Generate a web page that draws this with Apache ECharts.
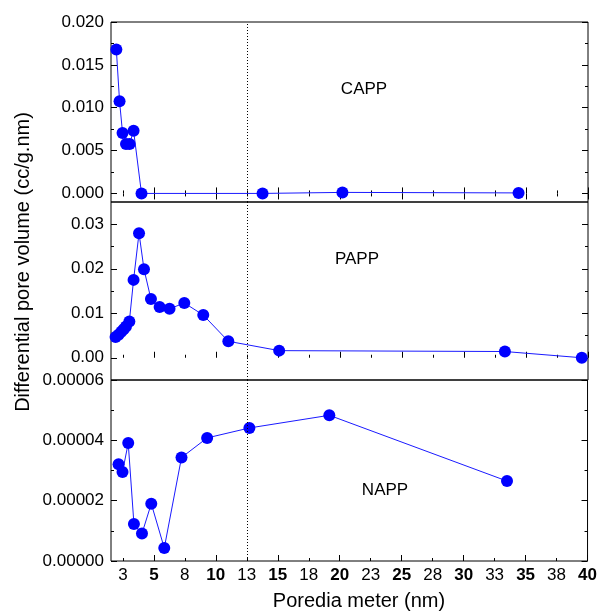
<!DOCTYPE html>
<html>
<head>
<meta charset="utf-8">
<script src="https://cdn.jsdelivr.net/npm/echarts@6/dist/echarts.min.js"></script>
<style>html,body{margin:0;padding:0;background:#fff;}#c{width:600px;height:613px;}</style>
</head>
<body>
<div id="c"></div>
<script>
// ---- data ----
const capX = [1.97, 2.23, 2.47, 2.75, 3.04, 3.36, 4.0, 13.76, 20.2, 34.4];
const capY = [0.0168, 0.01075, 0.00706, 0.00577, 0.00577, 0.00732, 0.0, 0.0, 0.00012, 0.00006];

const papX = [1.91, 2.15, 2.37, 2.56, 2.75, 3.02, 3.36, 3.80, 4.20, 4.76, 5.46, 6.26, 7.45, 8.98, 11.0, 15.1, 33.3, 39.5];
const papY = [0.00464, 0.00516, 0.00583, 0.00643, 0.00702, 0.00814, 0.0175, 0.0280, 0.0199, 0.0132, 0.0114, 0.0110, 0.0123, 0.0096, 0.0037, 0.0016, 0.0014, 0.0000];

const napX = [2.15, 2.47, 2.93, 3.39, 4.04, 4.79, 5.84, 7.23, 9.30, 12.71, 19.16, 33.5];
const napY = [3.21e-5, 2.95e-5, 3.91e-5, 1.23e-5, 0.91e-5, 1.90e-5, 0.43e-5, 3.43e-5, 4.08e-5, 4.41e-5, 4.83e-5, 2.65e-5];

const xLabelVals = [2.5, 5, 7.5, 10, 12.5, 15, 17.5, 20, 22.5, 25, 27.5, 30, 32.5, 35, 37.5, 40];
const xMajorTicks = [5, 10, 15, 20, 25, 30, 35, 40];
const xMinorTicks = [2.5, 7.5, 12.5, 17.5, 22.5, 27.5, 32.5, 37.5];
const refLineX = 12.5;

const panelNames = ['CAPP', 'PAPP', 'NAPP'];
const yRanges = [[-0.001, 0.020], [-0.005, 0.035], [0, 0.00006]];
const yMajorTicks = [[0, 0.005, 0.010, 0.015, 0.020], [0, 0.01, 0.02, 0.03], [0, 0.00002, 0.00004, 0.00006]];
const yMinorTicks = [[0.0025, 0.0075, 0.0125, 0.0175], [0.005, 0.015, 0.025], [0.00001, 0.00003, 0.00005]];
const yDecimals = [3, 2, 5];

// ---- layout ----
const FONT = '"Liberation Sans", Arial, sans-serif';
const X_MIN = 1.54, X_MAX = 40;
const grids = [
  {left: 111, right: 12, top: 22, height: 180},
  {left: 111, right: 12, top: 202, height: 178},
  {left: 111, right: 12, top: 380, height: 181}
];
const tickStyle = {color: '#000', width: 1};

const xAxes = [], yAxes = [], series = [];
const xs = [capX, papX, napX], ys = [capY, papY, napY];

grids.forEach((g, i) => {
  const mkX = (pos, len, vals, labels) => ({
    gridIndex: i, type: 'value', min: X_MIN, max: X_MAX, position: pos,
    axisLine: {show: false}, splitLine: {show: false},
    axisTick: {show: true, inside: true, length: len, customValues: vals, lineStyle: tickStyle},
    axisLabel: labels ? {
      show: true, customValues: xLabelVals, margin: 6,
      formatter: v => (Math.abs(v % 5) < 1e-9 ? '{b|' + v + '}' : '{n|' + Math.round(v) + '}'),
      rich: {
        b: {fontFamily: FONT, fontSize: 17, fontWeight: 'bold', color: '#000'},
        n: {fontFamily: FONT, fontSize: 17, color: '#000'}
      }
    } : {show: false}
  });
  const primaryX = xAxes.length;
  xAxes.push(mkX('bottom', 6, xMajorTicks, i === 2));
  xAxes.push(mkX('bottom', 3, xMinorTicks, false));
  if (i === 0) {
    xAxes.push(mkX('top', 6, xMajorTicks, false));
    xAxes.push(mkX('top', 3, xMinorTicks, false));
  }
  const mkY = (pos, len, vals, labels) => ({
    gridIndex: i, type: 'value', min: yRanges[i][0], max: yRanges[i][1], position: pos,
    axisLine: {show: false}, splitLine: {show: false},
    axisTick: {show: true, inside: true, length: len, customValues: vals, lineStyle: tickStyle},
    axisLabel: labels ? {
      show: true, customValues: yMajorTicks[i], margin: 7,
      fontFamily: FONT, fontSize: 17, color: '#000',
      formatter: v => Number(v).toFixed(yDecimals[i])
    } : {show: false}
  });
  const primaryY = yAxes.length;
  yAxes.push(mkY('left', 6, yMajorTicks[i], true));
  yAxes.push(mkY('left', 3, yMinorTicks[i], false));
  yAxes.push(mkY('right', 6, yMajorTicks[i], false));
  yAxes.push(mkY('right', 3, yMinorTicks[i], false));

  series.push({
    type: 'line', name: panelNames[i],
    xAxisIndex: primaryX, yAxisIndex: primaryY,
    data: xs[i].map((x, k) => [x, ys[i][k]]),
    symbol: 'circle', symbolSize: 12, showSymbol: true, clip: false,
    itemStyle: {color: '#0000ff'},
    lineStyle: {color: '#1a1aff', width: 1},
    animation: false,
    markLine: {
      silent: true, symbol: ['none', 'none'], label: {show: false},
      lineStyle: {type: [1, 2], color: '#000', width: 1},
      data: [{xAxis: refLineX}], animation: false
    },
    z: 3
  });
});

const chart = echarts.init(document.getElementById('c'), null, {renderer: 'canvas'});
chart.setOption({
  animation: false,
  backgroundColor: '#fff',
  grid: grids.map(g => Object.assign({show: true, borderColor: '#000', borderWidth: 1, backgroundColor: 'transparent'}, g)),
  xAxis: xAxes,
  yAxis: yAxes,
  series: series,
  graphic: [
    {type: 'text', x: 364, y: 89, style: {text: 'CAPP', font: '17px ' + FONT, fill: '#000', align: 'center', verticalAlign: 'middle'}},
    {type: 'text', x: 357, y: 259, style: {text: 'PAPP', font: '17px ' + FONT, fill: '#000', align: 'center', verticalAlign: 'middle'}},
    {type: 'text', x: 385, y: 490, style: {text: 'NAPP', font: '17px ' + FONT, fill: '#000', align: 'center', verticalAlign: 'middle'}},
    {type: 'text', x: 359, y: 601, style: {text: 'Poredia meter (nm)', font: '20px ' + FONT, fill: '#000', align: 'center', verticalAlign: 'middle'}},
    {type: 'text', x: 23, y: 262, rotation: Math.PI / 2, style: {text: 'Differential pore volume (cc/g.nm)', font: '20px ' + FONT, fill: '#000', align: 'center', verticalAlign: 'middle'}}
  ]
});
</script>
</body>
</html>
